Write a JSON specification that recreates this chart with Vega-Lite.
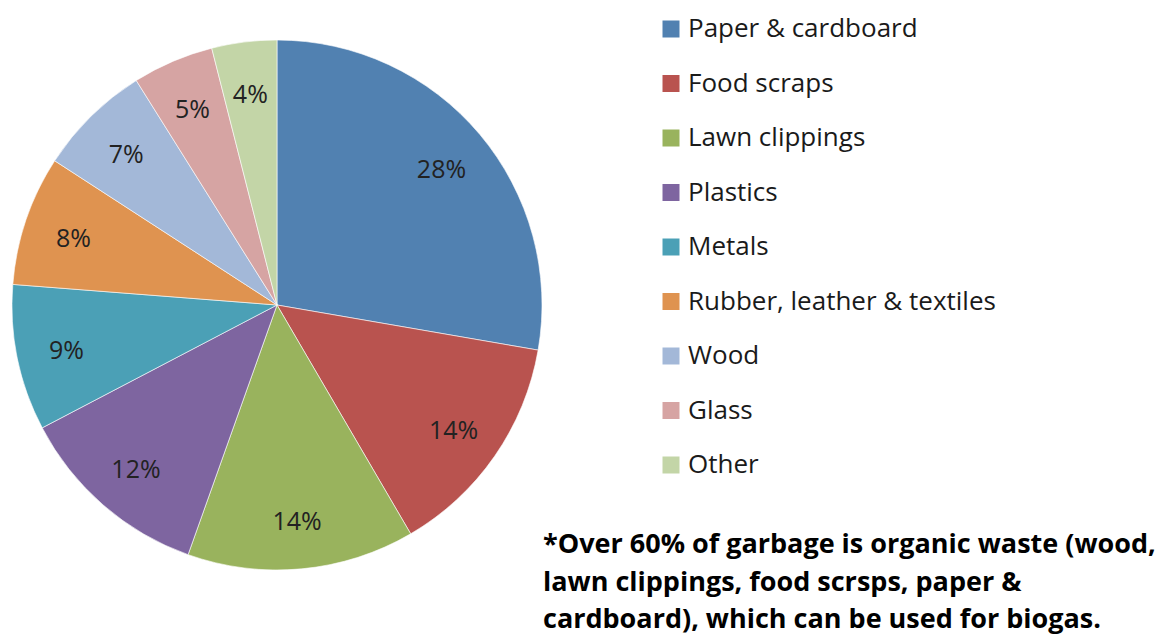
{
  "$schema": "https://vega.github.io/schema/vega-lite/v6.json",
  "width": 554,
  "height": 610,
  "autosize": {"type": "none"},
  "padding": {"left": 0, "top": 0, "right": 612, "bottom": 27},
  "background": "white",
  "data": {
    "values": [
      {"category": "Paper & cardboard", "pct": 28, "label": "28%", "order": 1},
      {"category": "Food scraps", "pct": 14, "label": "14%", "order": 2},
      {"category": "Lawn clippings", "pct": 14, "label": "14%", "order": 3},
      {"category": "Plastics", "pct": 12, "label": "12%", "order": 4},
      {"category": "Metals", "pct": 9, "label": "9%", "order": 5},
      {"category": "Rubber, leather & textiles", "pct": 8, "label": "8%", "order": 6},
      {"category": "Wood", "pct": 7, "label": "7%", "order": 7},
      {"category": "Glass", "pct": 5, "label": "5%", "order": 8},
      {"category": "Other", "pct": 4, "label": "4%", "order": 9}
    ]
  },
  "encoding": {
    "theta": {"field": "pct", "type": "quantitative", "stack": true},
    "order": {"field": "order", "type": "quantitative"}
  },
  "layer": [
    {
      "mark": {"type": "arc", "outerRadius": 265, "stroke": "#ffffff", "strokeWidth": 0.6},
      "encoding": {
        "color": {
          "field": "category",
          "type": "nominal",
          "sort": null,
          "scale": {
            "domain": ["Paper & cardboard", "Food scraps", "Lawn clippings", "Plastics", "Metals", "Rubber, leather & textiles", "Wood", "Glass", "Other"],
            "range": ["#5181B1", "#B9534F", "#99B35D", "#7E65A0", "#4BA0B6", "#DF9350", "#A3B8D8", "#D6A4A3", "#C3D5A7"]
          },
          "legend": {"title": null}
        }
      }
    },
    {
      "mark": {"type": "text", "radius": 215, "dy": 3, "fontSize": 25, "font": "Open Sans", "fill": "#222222"},
      "encoding": {"text": {"field": "label"}}
    }
  ],
  "title": {
    "text": ["*Over 60% of garbage is organic waste (wood,", "lawn clippings, food scrsps, paper &", "cardboard), which can be used for biogas."],
    "orient": "bottom",
    "anchor": "start",
    "frame": "group",
    "align": "left",
    "baseline": "top",
    "dx": 543,
    "dy": -78,
    "offset": 0,
    "fontSize": 27,
    "fontWeight": "bold",
    "font": "Open Sans",
    "lineHeight": 37.5,
    "color": "#000000"
  },
  "config": {
    "view": {"stroke": null},
    "legend": {
      "orient": "none",
      "legendX": 658,
      "legendY": 16,
      "symbolType": "square",
      "symbolSize": 289,
      "symbolStrokeWidth": 0,
      "symbolOpacity": 1,
      "labelFontSize": 26,
      "labelFont": "Open Sans",
      "labelColor": "#1a1a1a",
      "labelOffset": 4,
      "rowPadding": 28.5,
      "labelLimit": 0
    }
  }
}
